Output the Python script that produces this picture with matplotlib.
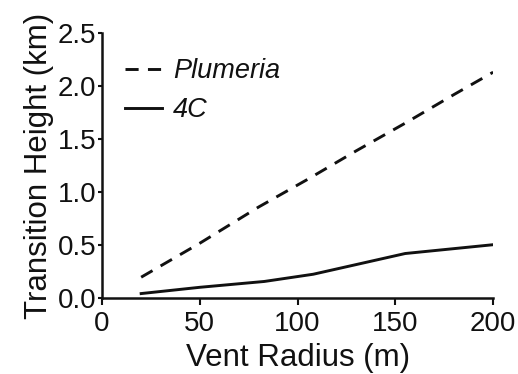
import matplotlib
matplotlib.use('Agg')
import matplotlib.pyplot as plt

plt.rcParams['font.family'] = ['Liberation Sans', 'DejaVu Sans']

# vent radius (m) and transition heights (km)
radius_plumeria = [20, 50, 80, 105, 130, 155, 180, 200]
height_plumeria = [0.20, 0.52, 0.86, 1.12, 1.39, 1.65, 1.92, 2.13]

radius_4c = [20, 50, 83, 108, 129, 155, 200]
height_4c = [0.046, 0.105, 0.16, 0.228, 0.315, 0.423, 0.506]

xticks = [0, 50, 100, 150, 200]
yticks = [0.0, 0.5, 1.0, 1.5, 2.0, 2.5]

ink = '#111111'

fig = plt.figure(figsize=(5.18, 3.74), dpi=100)
ax = fig.add_axes([0.197, 0.202, 0.755, 0.71])

ax.plot(radius_plumeria, height_plumeria, color=ink, lw=2.1,
        dashes=(4.5, 3.2), label='Plumeria')
ax.plot(radius_4c, height_4c, color=ink, lw=2.1, label='4C')

ax.set_xlim(0, 200)
ax.set_ylim(0, 2.5)
ax.set_xticks(xticks)
ax.set_yticks(yticks)
ax.set_yticklabels(['%.1f' % v for v in yticks])

for side in ['top', 'right']:
	ax.spines[side].set_visible(False)
for side in ['left', 'bottom']:
	ax.spines[side].set_linewidth(1.8)
	ax.spines[side].set_color(ink)

ax.tick_params(axis='both', labelsize=20, colors=ink, width=1.5)
ax.tick_params(axis='y', length=3, pad=1)
ax.tick_params(axis='x', length=5, pad=4)

ax.set_xlabel('Vent Radius (m)', fontsize=22.5, color=ink, labelpad=4)
ax.set_ylabel('Transition Height (km)', fontsize=22.5, color=ink, labelpad=3)

legend = ax.legend(loc='upper left', bbox_to_anchor=(0.059, 0.905), frameon=False,
                   fontsize=19.5, handlelength=1.37, handletextpad=0.4,
                   labelspacing=0.48, borderpad=0, borderaxespad=0)
for label in legend.get_texts():
	label.set_fontstyle('italic')
	label.set_color(ink)

plt.savefig('out.png', dpi=100)
plt.close()
